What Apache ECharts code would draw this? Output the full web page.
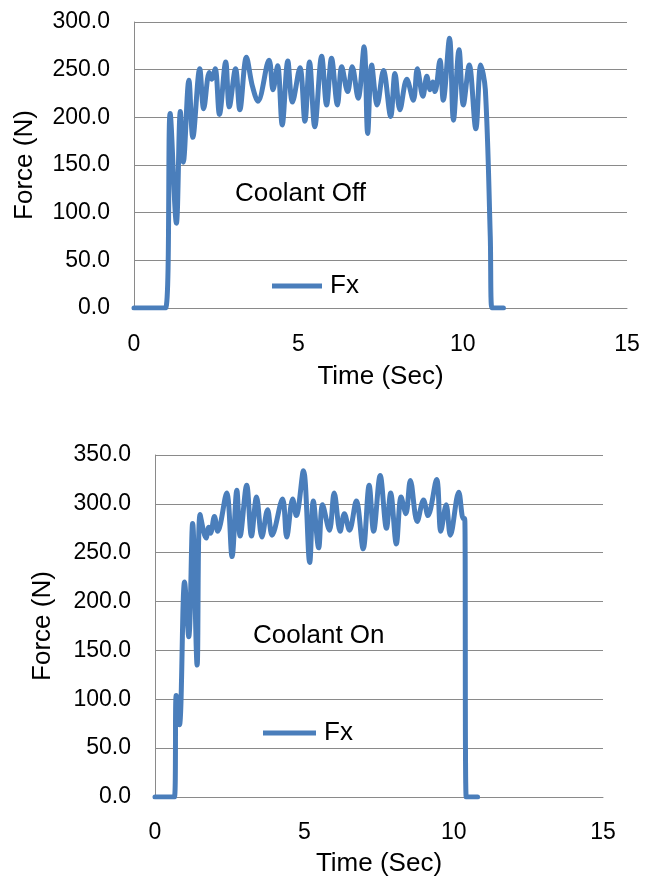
<!DOCTYPE html>
<html>
<head>
<meta charset="utf-8">
<script src="https://cdn.jsdelivr.net/npm/echarts@6/dist/echarts.min.js"></script>
<style>
  html, body { margin: 0; padding: 0; background: #fff; }
  #chart { width: 655px; height: 880px; }
</style>
</head>
<body>
<div id="chart"></div>
<script>
// Cutting force Fx over time, coolant off (upper panel) and coolant on (lower panel)
const timeOff = [0, 0.96, 1.10, 1.29, 1.41, 1.50, 1.67, 1.79, 2.00, 2.12, 2.29, 2.36, 2.47, 2.60, 2.79, 2.90,
  3.09, 3.22, 3.42, 3.60, 3.77, 4.11, 4.23, 4.37, 4.51, 4.68, 4.82, 5.05, 5.20, 5.34, 5.50, 5.71, 5.86,
  6.01, 6.19, 6.32, 6.50, 6.64, 6.82, 7.00, 7.11, 7.23, 7.40, 7.59, 7.81, 7.94, 8.09, 8.30, 8.50, 8.62,
  8.79, 8.91, 9.01, 9.09, 9.16, 9.31, 9.41, 9.60, 9.72, 9.89, 10.02, 10.20, 10.40, 10.55, 10.69, 10.84,
  10.89, 11.24];
const forceOff = [0, 0, 204, 89, 206, 153, 239, 179, 251, 209, 247, 240, 251, 203, 258, 211,
  251, 208, 263, 233, 217, 260, 229, 254, 192, 259, 216, 252, 196, 258, 190, 264, 213,
  262, 213, 253, 227, 253, 220, 274, 183, 255, 213, 249, 201, 246, 208, 240, 218, 251,
  222, 243, 229, 237, 227, 260, 218, 283, 197, 271, 213, 255, 188, 255, 229, 75,
  0, 0];

const timeOn = [0, 0.65, 0.71, 0.82, 0.99, 1.13, 1.26, 1.41, 1.51, 1.71, 1.80, 1.86, 1.99, 2.10, 2.40, 2.58,
  2.74, 2.85, 3.07, 3.23, 3.40, 3.58, 3.77, 3.92, 4.27, 4.41, 4.61, 4.73, 4.97, 5.18, 5.30, 5.48, 5.61,
  5.84, 6.00, 6.20, 6.34, 6.51, 6.74, 6.97, 7.17, 7.32, 7.54, 7.75, 7.89, 8.08, 8.24, 8.40, 8.55, 8.78,
  8.99, 9.14, 9.43, 9.57, 9.75, 9.89, 10.17, 10.32, 10.37, 10.42, 10.80];
const forceOn = [0, 0, 104, 74, 220, 164, 280, 135, 289, 265, 276, 270, 287, 272, 311, 246,
  314, 267, 319, 267, 307, 266, 294, 268, 305, 266, 305, 288, 334, 240, 303, 255, 299,
  273, 311, 272, 290, 273, 303, 254, 319, 272, 329, 275, 311, 259, 307, 290, 324, 282,
  304, 288, 325, 272, 299, 268, 312, 285, 285, 0, 0];

const xTicks = { min: 0, max: 15, interval: 5 };
const yOffTicks = { min: 0, max: 300, interval: 50 };
const yOnTicks = { min: 0, max: 350, interval: 50 };

const pairs = (xs, ys) => xs.map((x, i) => [x, ys[i]]);

const FONT = '"Liberation Sans", Arial, sans-serif';
const LINE = '#4a7ebb';
const GRID = '#8a8a8a';

function xAxisFor(gridIndex, gap, margin) {
  return {
    type: 'value', gridIndex: gridIndex,
    min: xTicks.min, max: xTicks.max, interval: xTicks.interval,
    name: 'Time (Sec)', nameLocation: 'middle', nameGap: gap,
    nameTextStyle: { fontFamily: FONT, fontSize: 26, color: '#000' },
    axisLine: { show: true, lineStyle: { color: GRID, width: 1 } },
    axisTick: { show: false },
    splitLine: { show: false },
    axisLabel: { fontFamily: FONT, fontSize: 23, color: '#000', margin: margin }
  };
}

function yAxisFor(gridIndex, ticks, gap) {
  return {
    type: 'value', gridIndex: gridIndex,
    min: ticks.min, max: ticks.max, interval: ticks.interval,
    name: 'Force (N)', nameLocation: 'middle', nameGap: gap,
    nameTextStyle: { fontFamily: FONT, fontSize: 26, color: '#000' },
    axisLine: { show: true, lineStyle: { color: GRID, width: 1 } },
    axisTick: { show: false },
    splitLine: { show: true, lineStyle: { color: GRID, width: 1 } },
    axisLabel: { fontFamily: FONT, fontSize: 23, color: '#000', margin: 24,
      formatter: v => v.toFixed(1) }
  };
}

function lineSeries(idx, data) {
  return {
    type: 'line', name: 'Fx', xAxisIndex: idx, yAxisIndex: idx,
    data: data, smooth: 0.35, showSymbol: false, symbol: 'none',
    lineStyle: { color: LINE, width: 5, cap: 'round', join: 'round' },
    itemStyle: { color: LINE },
    animation: false
  };
}

const legendText = { fontFamily: FONT, fontSize: 26, color: '#000', padding: [0, 0, 0, 3] };

const chart = echarts.init(document.getElementById('chart'), null, { renderer: 'canvas' });
chart.setOption({
  animation: false,
  backgroundColor: '#fff',
  grid: [
    { left: 134, top: 22, width: 493, height: 286 },
    { left: 155, top: 455, width: 448, height: 342 }
  ],
  xAxis: [xAxisFor(0, 56, 25), xAxisFor(1, 54, 24)],
  yAxis: [yAxisFor(0, yOffTicks, 96), yAxisFor(1, yOnTicks, 99)],
  legend: [
    { data: ['Fx'], left: 272, top: 273, padding: 0, itemWidth: 50, itemHeight: 5, itemGap: 0,
      icon: 'rect', textStyle: legendText },
    { data: ['Fx'], left: 263, top: 720, padding: 0, itemWidth: 53, itemHeight: 5, itemGap: 0,
      icon: 'rect', textStyle: legendText }
  ],
  graphic: [
    { type: 'text', left: 235, top: 181, style: { text: 'Coolant Off', font: '26px ' + FONT, fill: '#000' } },
    { type: 'text', left: 253, top: 623, style: { text: 'Coolant On', font: '26px ' + FONT, fill: '#000' } }
  ],
  series: [
    lineSeries(0, pairs(timeOff, forceOff)),
    lineSeries(1, pairs(timeOn, forceOn))
  ]
});
</script>
</body>
</html>
